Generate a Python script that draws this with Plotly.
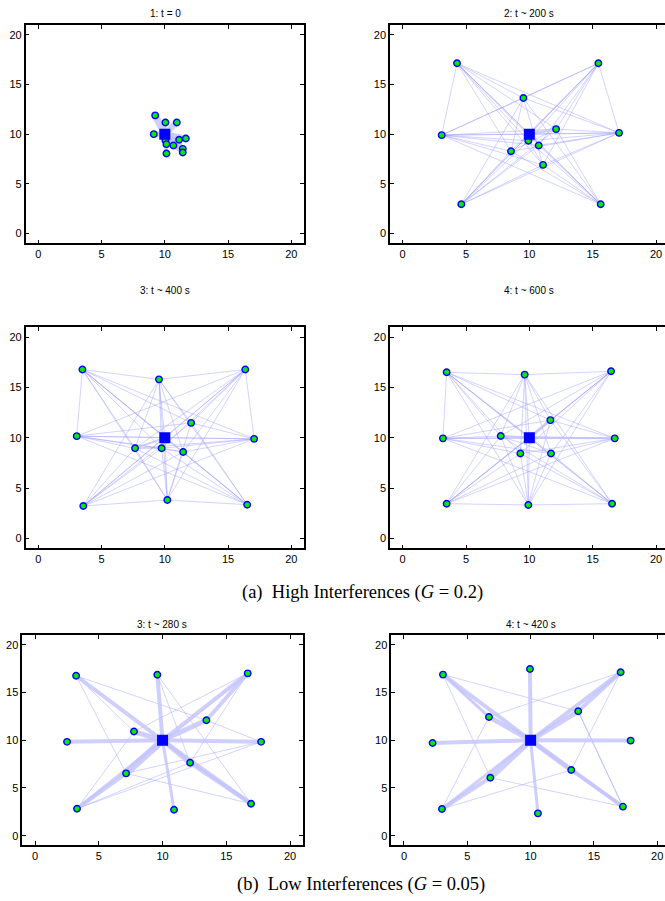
import plotly.graph_objects as go

W, H = 670, 901

# ---------------- data (node positions; sink = last node) ----------------
sink_x, sink_y = 10.0, 10.0

titles = ["1: t = 0", "2: t ~ 200 s", "3: t ~ 400 s", "4: t ~ 600 s", "3: t ~ 280 s", "4: t ~ 420 s"]
ticks = [0, 5, 10, 15, 20]
caption_a = "(a)  High Interferences (<i>G</i> = 0.2)"
caption_b = "(b)  Low Interferences (<i>G</i> = 0.05)"

p1_x = [9.24, 10.05, 10.95, 9.13, 10.05, 10.13, 10.68, 11.13, 11.66, 11.42, 11.42, 10.13]
p1_y = [11.89, 11.18, 11.18, 10.0, 9.36, 8.99, 8.86, 9.43, 9.56, 8.52, 8.15, 8.05]
p1_thin = [(11, 5), (10, 6), (9, 7), (10, 9)]
p1_flow = [(0, 12, 7), (1, 12, 3), (2, 12, 6), (3, 12, 5), (4, 12, 3), (5, 12, 3), (6, 12, 4),
           (7, 12, 4), (8, 12, 6), (9, 12, 5), (10, 12, 5), (11, 12, 4), (10, 6, 4), (9, 7, 3)]

p2_x = [4.29, 15.45, 9.53, 3.08, 12.11, 17.08, 9.92, 10.74, 8.55, 11.08, 4.63, 15.63]
p2_y = [17.14, 17.14, 13.64, 9.90, 10.51, 10.13, 9.33, 8.86, 8.28, 6.90, 2.93, 2.93]
p2_outer = [0, 1, 3, 5, 10, 11]
p2_inner = [2, 4, 6, 7, 8, 9, 12]
p2_extra = [(0, 3), (0, 5), (1, 3), (1, 10), (0, 11), (3, 5), (5, 10), (3, 11), (1, 5), (2, 8), (2, 9), (4, 8), (6, 9)]
p2_flow = [(4, 12, 3), (6, 12, 2)]

p3_x = [3.49, 9.54, 16.36, 12.08, 3.04, 17.06, 7.65, 9.75, 11.45, 10.2, 3.56, 16.51]
p3_y = [16.80, 15.82, 16.80, 11.49, 10.17, 9.90, 8.96, 8.96, 8.59, 3.81, 3.22, 3.35]
p3_outer = [0, 1, 2, 4, 5, 9, 10, 11]
p3_inner = [3, 6, 7, 8, 12]
p3_extra = [(0, 1), (1, 2), (0, 4), (2, 5), (10, 9), (9, 11), (0, 5), (0, 11), (2, 4), (2, 10),
            (4, 5), (4, 11), (5, 10), (1, 10), (1, 11), (0, 9), (2, 9), (1, 9), (6, 7), (7, 8)]
p3_flow = [(6, 12, 2), (7, 12, 2)]

p4_x = [3.47, 9.63, 16.45, 11.66, 3.18, 16.74, 7.74, 9.29, 11.71, 3.47, 9.92, 16.53]
p4_y = [16.52, 16.29, 16.62, 11.76, 9.95, 9.95, 10.18, 8.44, 8.44, 3.45, 3.32, 3.45]
p4_outer = [0, 1, 2, 4, 5, 9, 10, 11]
p4_inner = [3, 6, 7, 8, 12]
p4_extra = [(0, 1), (1, 2), (0, 4), (9, 10), (10, 11), (0, 5), (0, 11), (2, 4), (2, 9),
            (4, 5), (4, 11), (5, 9), (1, 9), (1, 11), (0, 10), (2, 10), (1, 10), (6, 8)]
p4_flow = [(3, 12, 3), (6, 12, 2), (5, 12, 2)]

p5_x = [3.22, 9.59, 16.68, 13.44, 7.76, 2.51, 17.73, 12.16, 7.14, 3.29, 10.9, 16.94]
p5_y = [16.77, 16.88, 17.02, 12.1, 10.92, 9.84, 9.84, 7.64, 6.53, 2.83, 2.72, 3.35]
p5_thin = [(0, 4), (0, 3), (0, 8), (1, 11), (2, 4), (2, 7), (3, 6), (9, 4), (9, 7), (9, 6),
           (8, 6), (8, 11), (2, 8), (1, 7)]
p5_flow = [(0, 12, 4), (1, 12, 4), (2, 3, 4), (2, 12, 4), (3, 12, 5), (4, 12, 5), (5, 12, 4),
           (6, 12, 4), (7, 12, 5), (8, 12, 7), (9, 8, 4), (9, 12, 3), (10, 12, 3), (11, 7, 4), (11, 12, 4)]

p6_x = [3.08, 9.95, 17.11, 13.76, 6.71, 2.26, 17.9, 13.21, 6.82, 3.0, 10.58, 17.29]
p6_y = [16.89, 17.48, 17.13, 13.04, 12.45, 9.72, 9.97, 6.89, 6.08, 2.80, 2.34, 3.04]
p6_thin = [(0, 4), (0, 8), (0, 3), (4, 2), (9, 4), (9, 7), (8, 11), (2, 7), (3, 11), (3, 11)]
p6_flow = [(0, 12, 4), (0, 4, 3), (4, 12, 5), (1, 12, 4), (2, 12, 4), (2, 3, 4), (3, 12, 5),
           (5, 12, 4), (6, 12, 4), (7, 12, 5), (11, 7, 3), (11, 12, 4), (8, 12, 6), (9, 8, 4),
           (9, 12, 3), (10, 12, 3)]


def full_edges(outer, inner, extra):
    return [(a, b) for a in outer for b in inner] + list(extra)


panels = [
    dict(x=p1_x, y=p1_y, thin=p1_thin, flow=p1_flow),
    dict(x=p2_x, y=p2_y, thin=full_edges(p2_outer, p2_inner, p2_extra), flow=p2_flow),
    dict(x=p3_x, y=p3_y, thin=full_edges(p3_outer, p3_inner, p3_extra), flow=p3_flow),
    dict(x=p4_x, y=p4_y, thin=full_edges(p4_outer, p4_inner, p4_extra), flow=p4_flow),
    dict(x=p5_x, y=p5_y, thin=p5_thin, flow=p5_flow),
    dict(x=p6_x, y=p6_y, thin=p6_thin, flow=p6_flow),
]

# ---------------- layout geometry (pixels) ----------------
# (left, right, top, bottom); right panels extend past the 665 px window and are clipped like the reference
geo = [
    (25.6, 304.0, 25.0, 243.3),
    (390.0, 668.7, 25.0, 243.3),
    (25.6, 304.0, 327.3, 548.4),
    (390.0, 668.7, 327.3, 548.4),
    (22.3, 302.8, 635.4, 845.2),
    (391.3, 669.9, 635.4, 845.2),
]
title_pos = [(165, 14), (529, 14), (165, 291), (529, 291), (162, 624), (531, 624)]

thin_col = "rgba(150,150,255,0.42)"
flow_col = "rgba(195,195,252,0.8)"

fig = go.Figure()
layout_axes = {}
for k, P in enumerate(panels):
    sfx = "" if k == 0 else str(k + 1)
    xa, ya = "x" + sfx, "y" + sfx
    X = list(P["x"]) + [sink_x]
    Y = list(P["y"]) + [sink_y]
    ex, ey = [], []
    for a, b in P["thin"]:
        ex += [X[a], X[b], None]
        ey += [Y[a], Y[b], None]
    fig.add_trace(go.Scatter(x=ex, y=ey, mode="lines", line=dict(color=thin_col, width=1),
                             xaxis=xa, yaxis=ya, showlegend=False, hoverinfo="skip"))
    for a, b, w in P["flow"]:
        fig.add_trace(go.Scatter(x=[X[a], X[b]], y=[Y[a], Y[b]], mode="lines",
                                 line=dict(color=flow_col, width=w),
                                 xaxis=xa, yaxis=ya, showlegend=False, hoverinfo="skip"))
    fig.add_trace(go.Scatter(x=P["x"], y=P["y"], mode="markers",
                             marker=dict(size=6.5, color="rgb(0,235,0)", line=dict(color="blue", width=1.4)),
                             xaxis=xa, yaxis=ya, showlegend=False))
    fig.add_trace(go.Scatter(x=[sink_x], y=[sink_y], mode="markers",
                             marker=dict(size=11, symbol="square", color="blue", line=dict(width=0)),
                             xaxis=xa, yaxis=ya, showlegend=False))
    l, r, t, b = geo[k]
    common = dict(showline=True, linecolor="black", linewidth=1.5, mirror="ticks", ticks="inside",
                  ticklen=4, tickwidth=1, tickcolor="black", showgrid=False, zeroline=False,
                  tickvals=ticks, tickfont=dict(family="Liberation Sans, Arial", size=11, color="black"))
    layout_axes["xaxis" + sfx] = dict(common, domain=[l / W, r / W], range=[-1, 21], anchor=ya)
    layout_axes["yaxis" + sfx] = dict(common, domain=[1 - b / H, 1 - t / H], range=[-1, 21], anchor=xa)

annotations = []
for k, (tx, ty) in enumerate(title_pos):
    annotations.append(dict(x=tx / W, y=1 - ty / H, xref="paper", yref="paper", text=titles[k],
                            showarrow=False, xanchor="center", yanchor="middle",
                            font=dict(family="Liberation Sans, Arial", size=10, color="black")))
annotations.append(dict(x=362 / W, y=1 - 592 / H, xref="paper", yref="paper", text=caption_a,
                        showarrow=False, xanchor="center", yanchor="middle",
                        font=dict(family="Liberation Serif, Times New Roman", size=18.5, color="black")))
annotations.append(dict(x=361 / W, y=1 - 884 / H, xref="paper", yref="paper", text=caption_b,
                        showarrow=False, xanchor="center", yanchor="middle",
                        font=dict(family="Liberation Serif, Times New Roman", size=18.5, color="black")))

fig.update_layout(width=W, height=H, margin=dict(l=0, r=0, t=0, b=0),
                  paper_bgcolor="white", plot_bgcolor="white",
                  annotations=annotations, **layout_axes)

fig.write_html("out.html", config={"displayModeBar": False})

# remove the browser's default page margin so the figure sits at the window's top-left corner
with open("out.html", "r", encoding="utf-8") as f:
    html = f.read()
html = html.replace("<head>", "<head><style>html,body{margin:0;padding:0;overflow:hidden;}</style>", 1)
with open("out.html", "w", encoding="utf-8") as f:
    f.write(html)
